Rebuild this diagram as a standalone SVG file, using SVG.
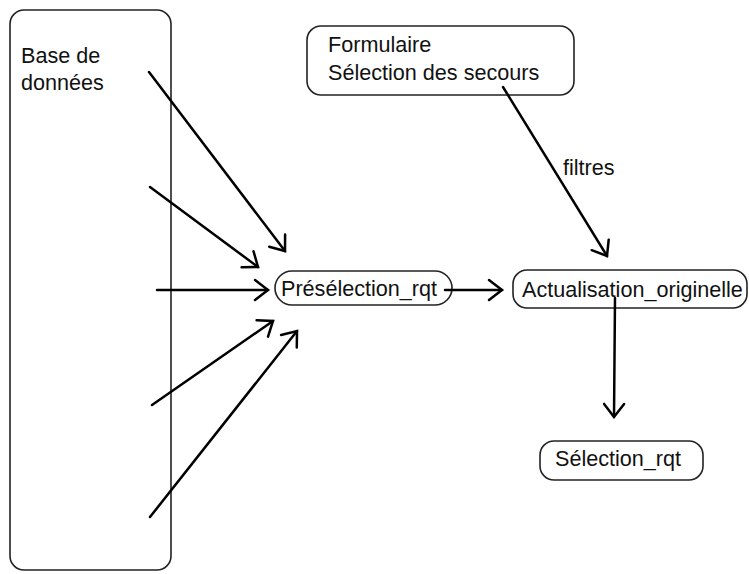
<svg xmlns="http://www.w3.org/2000/svg" width="749" height="574" viewBox="0 0 749 574">
<style>
.box{fill:#fff;stroke:#222;stroke-width:1.6}
.t{font-family:"Liberation Sans",Arial,sans-serif;font-size:21.6px;fill:#111}
.c{fill:none;stroke:#000;stroke-width:2.5;stroke-linecap:round}
</style>
<defs>
<marker id="ah" markerUnits="userSpaceOnUse" viewBox="-16 -12 20 24" refX="0" refY="0" markerWidth="20" markerHeight="24" orient="auto">
<path d="M-13,-10 L0,0 L-13,10" fill="none" stroke="#000" stroke-width="2.5" stroke-linecap="round" stroke-linejoin="miter"/>
</marker>
</defs>
<rect width="749" height="574" fill="#fff"/>
<g id="base">
<rect class="box" x="10" y="10" width="161" height="560" rx="14"/>
<text class="t" x="21" y="63">Base de</text>
<text class="t" x="21" y="90">données</text>
</g>
<g id="formulaire">
<rect class="box" x="307" y="26" width="267" height="69" rx="14"/>
<text class="t" x="328" y="52">Formulaire</text>
<text class="t" x="328" y="80">Sélection des secours</text>
</g>
<g id="preselection">
<rect class="box" x="275" y="271" width="177" height="34" rx="17"/>
<text class="t" x="281" y="296">Présélection_rqt</text>
</g>
<g id="actualisation">
<rect class="box" x="513" y="270" width="234" height="38" rx="14"/>
<text class="t" x="522" y="297">Actualisation_originelle</text>
</g>
<g id="selection">
<rect class="box" x="540" y="441" width="163" height="39" rx="14"/>
<text class="t" x="555" y="466">Sélection_rqt</text>
</g>
<g id="connectors">
<line class="c" x1="149" y1="72" x2="285" y2="251" marker-end="url(#ah)"/>
<line class="c" x1="150" y1="187" x2="258" y2="267" marker-end="url(#ah)"/>
<line class="c" x1="157" y1="290" x2="268" y2="290" marker-end="url(#ah)"/>
<line class="c" x1="152" y1="405" x2="273" y2="321" marker-end="url(#ah)"/>
<line class="c" x1="150" y1="517" x2="297" y2="331" marker-end="url(#ah)"/>
<line class="c" x1="445" y1="290" x2="502" y2="290" marker-end="url(#ah)"/>
<line class="c" x1="615" y1="298" x2="614" y2="417" stroke-width="2" marker-end="url(#ah)"/>
<line class="c" x1="503" y1="87" x2="607" y2="256" marker-end="url(#ah)"/>
<text class="t" x="563" y="175">filtres</text>
</g>
</svg>
